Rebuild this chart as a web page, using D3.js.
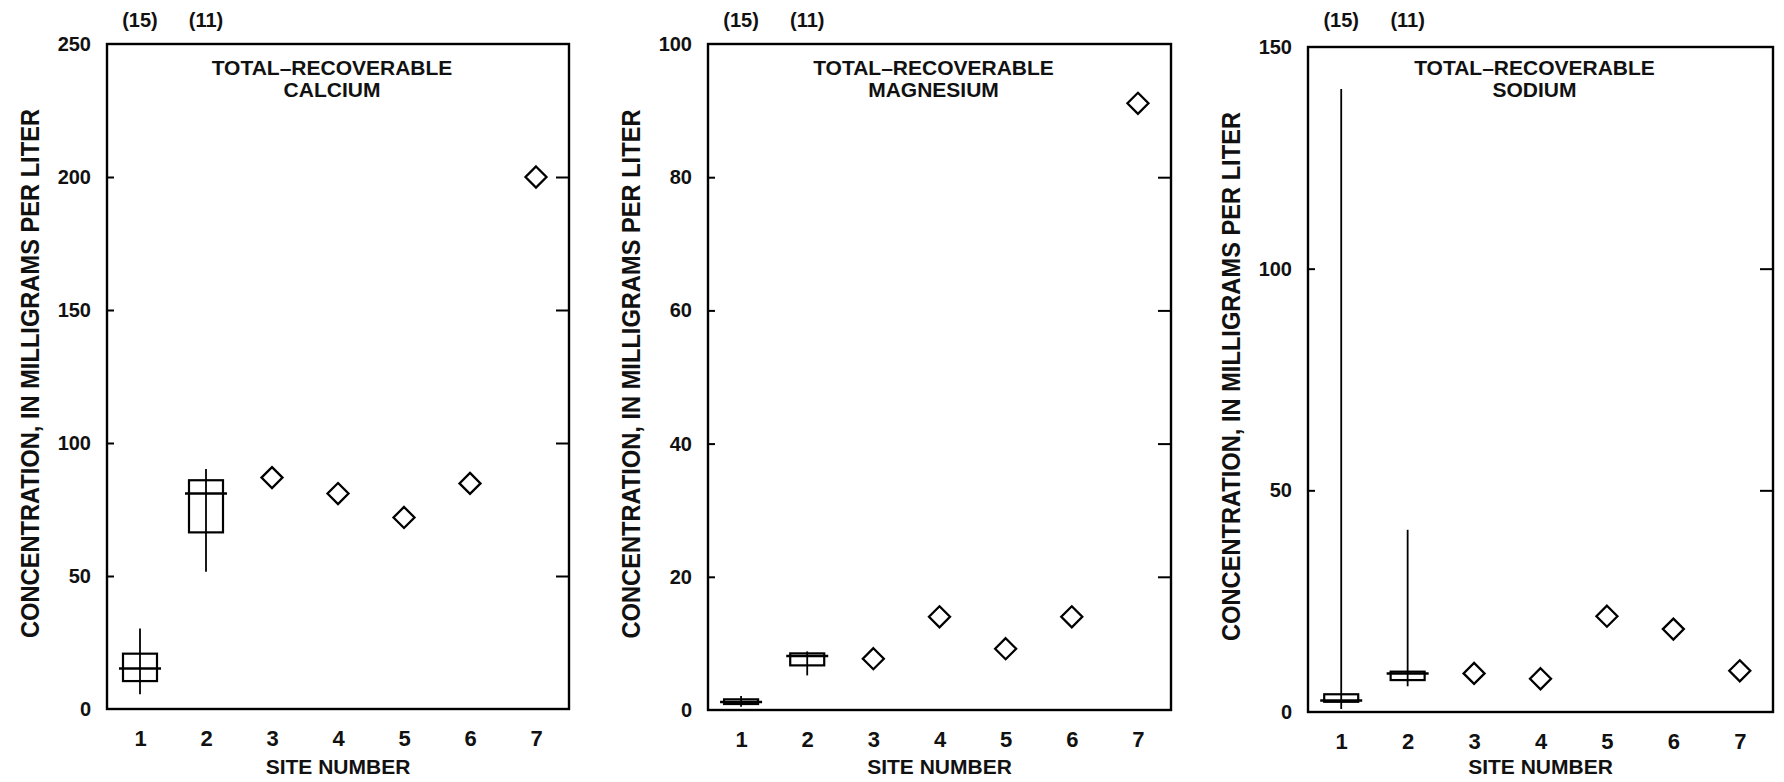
<!DOCTYPE html>
<html>
<head>
<meta charset="utf-8">
<script src="https://cdn.jsdelivr.net/npm/d3@7"></script>
<style>
  body { margin: 0; background: #fff; }
  text { font-family: "Liberation Sans", Arial, sans-serif; font-weight: bold; fill: #111; }
</style>
</head>
<body>
<div id="chart"></div>
<script>
// site numbers along the x axis
var sites = [1, 2, 3, 4, 5, 6, 7];
// number of samples shown above sites 1 and 2
var sampleCounts = ["(15)", "(11)"];

// box plots for sites 1 and 2: [low, q1, median, q3, high]
var calciumBoxes = [[5.5, 10.5, 15.2, 20.8, 30.3], [51.6, 66.4, 81, 86, 90.2]];
var magnesiumBoxes = [[0.5, 0.9, 1.2, 1.6, 2.1], [5.2, 6.7, 8.1, 8.5, 8.8]];
var sodiumBoxes = [[0.7, 2.3, 2.6, 4.0, 140.5], [5.8, 7.2, 8.7, 9.1, 41.1]];

// single values for sites 3 to 7
var calciumPoints = [87, 81, 72, 84.8, 200];
var magnesiumPoints = [7.7, 14.0, 9.2, 14.0, 91.1];
var sodiumPoints = [8.7, 7.5, 21.6, 18.7, 9.3];

var calciumTicks = [0, 50, 100, 150, 200, 250];
var magnesiumTicks = [0, 20, 40, 60, 80, 100];
var sodiumTicks = [0, 50, 100, 150];

var svgWidth = 1784;
var svgHeight = 782;

var svg = d3.select("#chart")
  .append("svg")
  .attr("width", svgWidth)
  .attr("height", svgHeight);

var panels = [
  { name: "CALCIUM", boxes: calciumBoxes, points: calciumPoints, ticks: calciumTicks,
    left: 107, right: 569, top: 44, bottom: 709 },
  { name: "MAGNESIUM", boxes: magnesiumBoxes, points: magnesiumPoints, ticks: magnesiumTicks,
    left: 708, right: 1171, top: 44, bottom: 710 },
  { name: "SODIUM", boxes: sodiumBoxes, points: sodiumPoints, ticks: sodiumTicks,
    left: 1308, right: 1773, top: 47, bottom: 712 }
];

panels.forEach(function(p) {
  var g = svg.append("g");
  var mid = (p.left + p.right) / 2;

  var x = d3.scalePoint()
    .domain(sites)
    .range([p.left, p.right])
    .padding(0.5);

  var y = d3.scaleLinear()
    .domain([0, d3.max(p.ticks)])
    .range([p.bottom, p.top]);

  // left axis, ticks pointing inward
  var leftAxis = g.append("g")
    .attr("transform", `translate(${p.left},0)`)
    .call(d3.axisLeft(y).tickValues(p.ticks).tickSize(-7).tickPadding(16));
  leftAxis.select(".domain").remove();
  leftAxis.selectAll("line").attr("stroke", "#000").attr("stroke-width", 2)
    .filter(function(d) { return d === 0 || d === d3.max(p.ticks); }).remove();
  leftAxis.selectAll("text").style("font-size", "20px").attr("fill", "#111");

  // right axis ticks, no labels
  var rightAxis = g.append("g")
    .attr("transform", `translate(${p.right},0)`)
    .call(d3.axisRight(y).tickValues(p.ticks.slice(1, -1)).tickSize(-13).tickFormat(""));
  rightAxis.select(".domain").remove();
  rightAxis.selectAll("line").attr("stroke", "#000").attr("stroke-width", 2);

  // bottom axis labels
  var bottomAxis = g.append("g")
    .attr("transform", `translate(0,${p.bottom})`)
    .call(d3.axisBottom(x).tickSize(0).tickPadding(21));
  bottomAxis.select(".domain").remove();
  bottomAxis.selectAll("text").style("font-size", "22px").attr("fill", "#111");

  // frame
  g.append("rect")
    .attr("x", p.left)
    .attr("y", p.top)
    .attr("width", p.right - p.left)
    .attr("height", p.bottom - p.top)
    .attr("fill", "none")
    .attr("stroke", "#000")
    .attr("stroke-width", 2.4);

  // sample counts
  g.selectAll(".count")
    .data(sampleCounts)
    .enter()
    .append("text")
    .attr("class", "count")
    .attr("x", (d, i) => x(sites[i]))
    .attr("y", 20)
    .attr("dy", "0.35em")
    .attr("text-anchor", "middle")
    .style("font-size", "20px")
    .text(d => d);

  // panel title
  var title = g.append("text")
    .attr("x", mid - 6)
    .attr("y", 68)
    .attr("dy", "0.35em")
    .attr("text-anchor", "middle")
    .style("font-size", "21px");
  title.append("tspan").text("TOTAL–RECOVERABLE");
  title.append("tspan")
    .attr("x", mid - 6)
    .attr("dy", 22)
    .text(p.name);

  // boxes
  var box = g.selectAll(".box")
    .data(p.boxes)
    .enter()
    .append("g")
    .attr("class", "box");

  box.append("line")
    .attr("x1", (d, i) => x(sites[i]))
    .attr("x2", (d, i) => x(sites[i]))
    .attr("y1", d => y(d[0]))
    .attr("y2", d => y(d[4]))
    .attr("stroke", "#000")
    .attr("stroke-width", 1.8);

  box.append("rect")
    .attr("x", (d, i) => x(sites[i]) - 17)
    .attr("width", 34)
    .attr("y", d => y(d[3]))
    .attr("height", d => y(d[1]) - y(d[3]))
    .attr("fill", "none")
    .attr("stroke", "#000")
    .attr("stroke-width", 2.2);

  box.append("line")
    .attr("x1", (d, i) => x(sites[i]) - 21)
    .attr("x2", (d, i) => x(sites[i]) + 21)
    .attr("y1", d => y(d[2]))
    .attr("y2", d => y(d[2]))
    .attr("stroke", "#000")
    .attr("stroke-width", 2.4);

  // single-sample sites as diamonds
  g.selectAll(".point")
    .data(p.points)
    .enter()
    .append("path")
    .attr("class", "point")
    .attr("transform", (d, i) => `translate(${x(sites[i + 2])},${y(d)})`)
    .attr("d", "M0,-10.5L10.5,0L0,10.5L-10.5,0Z")
    .attr("fill", "none")
    .attr("stroke", "#000")
    .attr("stroke-width", 2.3);

  // axis titles
  g.append("text")
    .attr("transform", `translate(${p.left - 77},${(p.top + p.bottom) / 2 - 3}) rotate(-90)`)
    .attr("dy", "0.35em")
    .attr("text-anchor", "middle")
    .attr("textLength", 529)
    .attr("lengthAdjust", "spacingAndGlyphs")
    .style("font-size", "26px")
    .text("CONCENTRATION, IN MILLIGRAMS PER LITER");

  g.append("text")
    .attr("x", mid)
    .attr("y", 767)
    .attr("dy", "0.35em")
    .attr("text-anchor", "middle")
    .style("font-size", "21px")
    .text("SITE NUMBER");
});
</script>
</body>
</html>
